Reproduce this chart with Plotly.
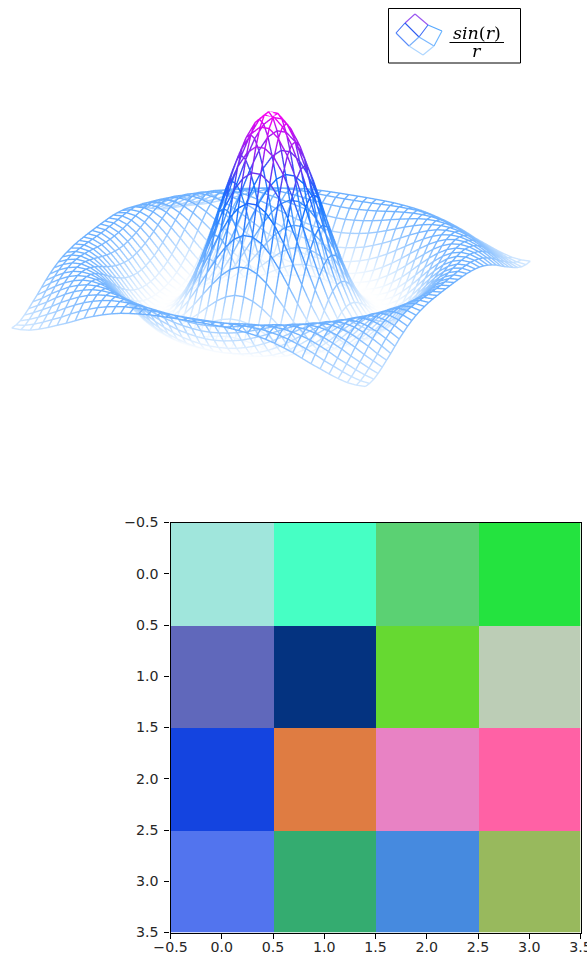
import plotly.graph_objects as go

W, H = 587, 957

# ---- surface: mesh positions along one half of an axis, heights read for one octant
half_axis = [0.2, 0.6, 1.0, 1.4, 1.8, 2.2, 2.6, 3.0, 3.4, 3.8,
             4.2, 4.6, 5.0, 5.4, 5.8, 6.2, 6.6, 7.0, 7.4, 7.8]
oct_0 = [.987, .934, .835, .699, .536, .364, .195, .045, -.077, -.162, -.208, -.216, -.192, -.142, -.080, -.013, .047, .094, .122, .128]
oct_1 = [.884, .789, .655, .499, .333, .171, .027, -.089, -.169, -.211, -.215, -.188, -.138, -.075, -.008, .051, .096, .123, .128]
oct_2 = [.699, .574, .429, .274, .125, -.006, -.110, -.180, -.214, -.213, -.182, -.129, -.065, -.000, .057, .100, .124, .127]
oct_3 = [.463, .333, .195, .063, -.051, -.138, -.195, -.216, -.207, -.171, -.116, -.053, .011, .066, .105, .126, .126]
oct_4 = [.220, .104, -.006, -.100, -.169, -.208, -.216, -.197, -.155, -.098, -.034, .026, .077, .112, .128, .124]
oct_5 = [.010, -.077, -.146, -.195, -.216, -.211, -.182, -.134, -.075, -.013, .044, .090, .119, .128, .119]
oct_6 = [-.138, -.185, -.212, -.216, -.197, -.159, -.107, -.048, .011, .063, .102, .124, .127, .113]
oct_7 = [-.211, -.216, -.205, -.175, -.129, -.075, -.017, .037, .083, .113, .128, .125, .105]
oct_8 = [-.207, -.182, -.142, -.093, -.039, .015, .063, .100, .123, .128, .117, .093]
oct_9 = [-.147, -.103, -.053, -.000, .047, .087, .115, .128, .125, .107, .078]
oct_10 = [-.057, -.008, .037, .077, .107, .125, .128, .116, .093, .060]
oct_11 = [.033, .072, .102, .122, .128, .122, .103, .074, .040]
oct_12 = [.100, .120, .128, .125, .110, .085, .053, .016]
oct_13 = [.128, .126, .113, .091, .062, .028, -.008]
oct_14 = [.114, .095, .067, .036, .000, -.029]
oct_15 = [.070, .040, .006, -.023, -.051]
oct_16 = [.008, -.020, -.047, -.070]
oct_17 = [-.046, -.068, -.085]
oct_18 = [-.084, -.091]
oct_19 = [-.090]
octant = [oct_0, oct_1, oct_2, oct_3, oct_4, oct_5, oct_6, oct_7, oct_8, oct_9,
          oct_10, oct_11, oct_12, oct_13, oct_14, oct_15, oct_16, oct_17, oct_18, oct_19]

# ---- image cells (RGB)
cells_row_0 = [[160, 230, 220], [70, 255, 196], [91, 209, 115], [36, 227, 63]]
cells_row_1 = [[96, 104, 187], [4, 51, 128], [102, 217, 49], [188, 205, 182]]
cells_row_2 = [[20, 68, 224], [223, 124, 66], [232, 130, 196], [255, 97, 165]]
cells_row_3 = [[82, 116, 238], [52, 172, 112], [70, 138, 223], [152, 185, 93]]
tick_values = [-0.5, 0.0, 0.5, 1.0, 1.5, 2.0, 2.5, 3.0, 3.5]

# ---- mesh assembled from the octant by mirroring
n = len(half_axis)
quadrant = [[octant[min(i, j)][max(i, j) - min(i, j)] for j in range(n)] for i in range(n)]
axis = [-v for v in reversed(half_axis)] + half_axis
rows = [list(reversed(r)) + r for r in quadrant]
grid = list(reversed(rows)) + rows

xs, ys, zs, cs = [], [], [], []
for i, yv in enumerate(axis):
    for j, xv in enumerate(axis):
        xs.append(xv); ys.append(yv); zs.append(grid[i][j]); cs.append(grid[i][j])
    xs.append(None); ys.append(None); zs.append(None); cs.append(0)
for j, xv in enumerate(axis):
    for i, yv in enumerate(axis):
        xs.append(xv); ys.append(yv); zs.append(grid[i][j]); cs.append(grid[i][j])
    xs.append(None); ys.append(None); zs.append(None); cs.append(0)

ZMIN, ZMAX = -0.217, 0.987
def stop(v):
    return (v - ZMIN) / (ZMAX - ZMIN)
colorscale = [
    [0.0, "#ffffff"],
    [stop(-0.09), "#cfe6ff"],
    [stop(0.128), "#6cb0ff"],
    [stop(0.50), "#1070ff"],
    [stop(0.70), "#6a30f0"],
    [1.0, "#f800f0"],
]

fig = go.Figure()
fig.add_trace(go.Scatter3d(
    x=xs, y=ys, z=zs, mode="lines", connectgaps=False, hoverinfo="skip",
    line=dict(color=cs, colorscale=colorscale, cmin=ZMIN, cmax=ZMAX, width=2.8),
    showlegend=False,
))
fig.add_trace(go.Image(
    z=[cells_row_0, cells_row_1, cells_row_2, cells_row_3],
    x0=0, dx=1, y0=0, dy=1, hoverinfo="skip",
))

def px(x):
    return x / W
def py(y):
    return 1 - y / H

hidden = dict(visible=False, showgrid=False, zeroline=False, showticklabels=False, showbackground=False)
tick_font = dict(family="DejaVu Sans", size=14.2, color="#262626")
axis_common = dict(
    tickmode="array", tickvals=tick_values, tickformat=".1f", ticks="outside", ticklen=5, tickwidth=1.1,
    tickcolor="#000000", showline=True, linecolor="#000000", linewidth=1.1, mirror=True,
    showgrid=False, zeroline=False, tickfont=tick_font, ticklabeloverflow="allow", automargin=False,
)

def seg(x0, y0, x1, y1, color):
    return dict(type="line", xref="paper", yref="paper", x0=px(x0), y0=py(y0), x1=px(x1), y1=py(y1),
                line=dict(color=color, width=1.1))

shapes = [
    dict(type="rect", xref="paper", yref="paper", x0=px(388.5), x1=px(520.5), y0=py(8.5), y1=py(63),
         line=dict(color="#000000", width=1), fillcolor="rgba(0,0,0,0)"),
    seg(415, 14, 428, 25, "#9a55f0"), seg(405, 23, 415, 14, "#9a55f0"),
    seg(405, 23, 396, 33, "#3f6cf5"), seg(405, 23, 419, 37, "#2f5cf0"),
    seg(428, 25, 419, 37, "#3f6cf5"), seg(428, 25, 442, 31, "#55a8ff"),
    seg(396, 33, 409, 46, "#5a8cf8"), seg(419, 37, 409, 46, "#78b0fa"),
    seg(419, 37, 434, 46, "#7ab8ff"), seg(442, 31, 434, 46, "#6ab4ff"),
    seg(409, 46, 423, 55, "#aed6ff"), seg(434, 46, 423, 55, "#aed6ff"),
    seg(449.5, 42.5, 504, 42.5, "#000000"),
]

math_font = dict(family="DejaVu Serif", size=17.5, color="#000000")
annotations = [
    dict(xref="paper", yref="paper", x=px(476.5), y=py(33), text="<i>sin</i>(<i>r</i>)",
         showarrow=False, font=math_font, xanchor="center", yanchor="middle"),
    dict(xref="paper", yref="paper", x=px(476.5), y=py(51), text="<i>r</i>",
         showarrow=False, font=math_font, xanchor="center", yanchor="middle"),
]

SCALE = 1.815
fig.update_layout(
    width=W, height=H, margin=dict(l=0, r=0, t=0, b=0),
    paper_bgcolor="#ffffff", plot_bgcolor="#ffffff", showlegend=False,
    shapes=shapes, annotations=annotations,
    scene=dict(
        domain=dict(x=[0, px(542)], y=[py(430), 1]),
        xaxis=dict(range=[-7.8, 7.8], **hidden),
        yaxis=dict(range=[-7.8, 7.8], **hidden),
        zaxis=dict(range=[ZMIN, ZMAX], **hidden),
        aspectmode="manual", aspectratio=dict(x=SCALE, y=SCALE, z=0.553 * SCALE),
        camera=dict(eye=dict(x=-0.847 * 2, y=-0.395 * 2, z=0.354 * 2),
                    up=dict(x=0, y=0, z=1), center=dict(x=0, y=0, z=0),
                    projection=dict(type="orthographic")),
        bgcolor="rgba(0,0,0,0)",
    ),
    xaxis=dict(domain=[px(170.5), px(580.5)], range=[-0.5, 3.5], ticklabelstandoff=-4, **axis_common),
    yaxis=dict(domain=[py(932.5), py(522.5)], range=[3.5, -0.5], ticklabelstandoff=3, **axis_common),
)
fig.write_html(
    "out.html", config=dict(displayModeBar=False),
    default_width=f"{W}px", default_height=f"{H}px",
    post_script="document.body.style.margin='0';document.documentElement.style.overflow='hidden';",
)
